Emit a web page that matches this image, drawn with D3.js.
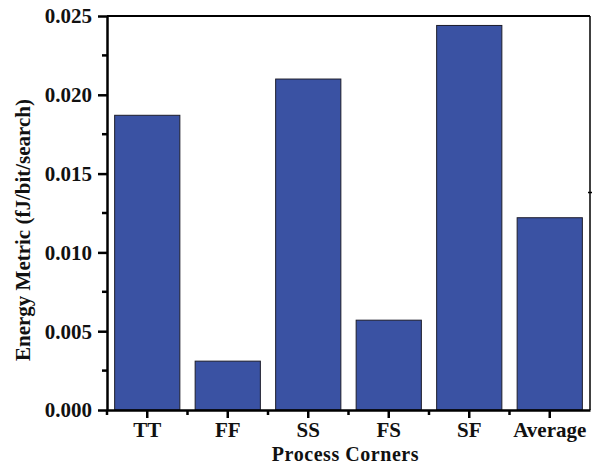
<!DOCTYPE html>
<html>
<head>
<meta charset="utf-8">
<script src="https://cdn.jsdelivr.net/npm/d3@7/dist/d3.min.js"></script>
<style>
  html, body { margin: 0; padding: 0; background: #fff; }
  svg { display: block; }
  text { font-family: "Liberation Serif", "Times New Roman", serif; font-weight: bold; fill: #111; }
</style>
</head>
<body>
<div id="chart"></div>
<script>
// Energy metric per process corner
const corners = ["TT", "FF", "SS", "FS", "SF", "Average"];
const energy = [0.0187, 0.0031, 0.0210, 0.0057, 0.0244, 0.0122];
const yTicks = [0.000, 0.005, 0.010, 0.015, 0.020, 0.025];
const yMinorTicks = [0.0025, 0.0075, 0.0125, 0.0175, 0.0225];

const W = 592, H = 464;
const margin = { left: 107, right: 2, top: 16, bottom: 54 };
const innerW = W - margin.left - margin.right;
const innerH = H - margin.top - margin.bottom;

const svg = d3.select("#chart").append("svg")
  .attr("width", W).attr("height", H);

const g = svg.append("g").attr("transform", `translate(${margin.left},${margin.top})`);

const x = d3.scaleBand().domain(corners).range([0, innerW])
  .paddingInner(0.19).paddingOuter(0.095);
const y = d3.scaleLinear().domain([0, 0.025]).range([innerH, 0]);

// bars
g.selectAll("rect.bar").data(corners).join("rect")
  .attr("class", "bar")
  .attr("x", d => x(d))
  .attr("width", x.bandwidth())
  .attr("y", (d, i) => y(energy[i]))
  .attr("height", (d, i) => innerH - y(energy[i]))
  .attr("fill", "#3a52a3")
  .attr("stroke", "#1c1c2a")
  .attr("stroke-width", 1);

// frame: top and right edges
g.append("line").attr("x1", 0).attr("x2", innerW).attr("y1", 0).attr("y2", 0)
  .attr("stroke", "#000").attr("stroke-width", 2);
g.append("line").attr("x1", innerW).attr("x2", innerW).attr("y1", 0).attr("y2", innerH)
  .attr("stroke", "#000").attr("stroke-width", 1.5);
// small tick on the right edge
g.append("line").attr("x1", innerW - 2).attr("x2", innerW + 2)
  .attr("y1", y(0.0138)).attr("y2", y(0.0138))
  .attr("stroke", "#000").attr("stroke-width", 1.5);

// y axis
const yAxis = g.append("g")
  .call(d3.axisLeft(y).tickValues(yTicks).tickFormat(d3.format(".3f"))
    .tickSizeInner(9).tickSizeOuter(0).tickPadding(6));
yAxis.select(".domain").attr("stroke", "#000").attr("stroke-width", 2.5);
yAxis.selectAll(".tick line").attr("stroke", "#000").attr("stroke-width", 2.5);
yAxis.selectAll(".tick text").attr("font-size", 21).attr("font-family", "Liberation Serif")
  .attr("font-weight", "bold").attr("fill", "#111").attr("dy", "0.33em");
g.selectAll("line.yminor").data(yMinorTicks).join("line")
  .attr("class", "yminor")
  .attr("x1", -5).attr("x2", 0)
  .attr("y1", d => y(d)).attr("y2", d => y(d))
  .attr("stroke", "#000").attr("stroke-width", 2.5);

// x axis
const xAxis = g.append("g").attr("transform", `translate(0,${innerH})`)
  .call(d3.axisBottom(x).tickSizeInner(8).tickSizeOuter(0).tickPadding(4));
xAxis.select(".domain").attr("stroke", "#000").attr("stroke-width", 2.5);
xAxis.selectAll(".tick line").attr("stroke", "#000").attr("stroke-width", 2.5);
xAxis.selectAll(".tick text").attr("font-size", 21).attr("font-family", "Liberation Serif")
  .attr("font-weight", "bold").attr("fill", "#111");
// minor ticks at category boundaries
const boundaries = corners.map(c => x(c) - x.step() * x.paddingInner() / 2);
g.selectAll("line.xminor").data(boundaries).join("line")
  .attr("class", "xminor")
  .attr("x1", d => d).attr("x2", d => d)
  .attr("y1", innerH).attr("y2", innerH + 5)
  .attr("stroke", "#000").attr("stroke-width", 2.5);

// axis titles
svg.append("text")
  .attr("x", margin.left + innerW / 2 - 3).attr("y", 461)
  .attr("text-anchor", "middle").attr("font-size", 20)
  .attr("letter-spacing", 0.55)
  .text("Process Corners");
svg.append("text")
  .attr("transform", `translate(30,${230}) rotate(-90)`)
  .attr("text-anchor", "middle").attr("font-size", 21)
  .text("Energy Metric (fJ/bit/search)");
</script>
</body>
</html>
